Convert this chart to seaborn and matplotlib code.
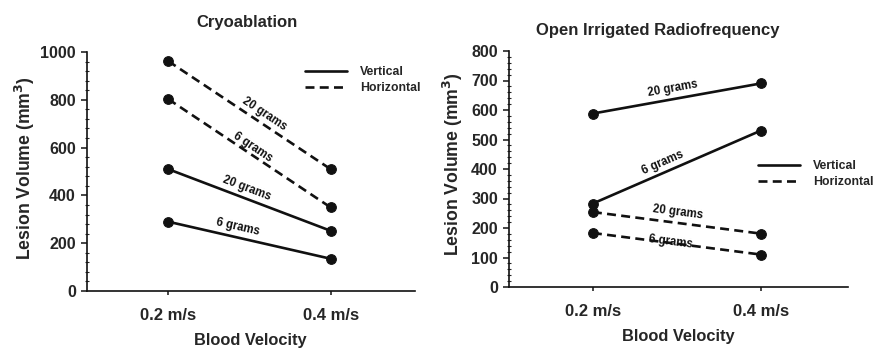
import matplotlib
matplotlib.use("Agg")
import matplotlib.pyplot as plt
import seaborn as sns
import pandas as pd
import numpy as np
from matplotlib.lines import Line2D
from matplotlib.ticker import MultipleLocator


# Data
velocities = ["0.2 m/s", "0.4 m/s"]

cryo_vert_6 = [290, 135]
cryo_vert_20 = [510, 252]
cryo_horiz_6 = [803, 350]
cryo_horiz_20 = [962, 510]

rf_vert_6 = [283, 530]
rf_vert_20 = [588, 690]
rf_horiz_6 = [183, 110]
rf_horiz_20 = [254, 181]


def make_frame(v6, v20, h6, h20):
    rows = []
    for name, orient, vals in [("6 grams", "Vertical", v6), ("20 grams", "Vertical", v20),
                               ("6 grams", "Horizontal", h6), ("20 grams", "Horizontal", h20)]:
        for vel, val in zip(velocities, vals):
            rows.append({"velocity": vel, "volume": val, "force": name,
                         "orientation": orient, "line": orient + " " + name})
    return pd.DataFrame(rows)


cryo = make_frame(cryo_vert_6, cryo_vert_20, cryo_horiz_6, cryo_horiz_20)
rf = make_frame(rf_vert_6, rf_vert_20, rf_horiz_6, rf_horiz_20)


# Style
sns.set_style("ticks")
plt.rcParams["font.family"] = ["Liberation Sans", "DejaVu Sans"]
plt.rcParams["font.weight"] = "bold"
ink = "#111111"
lw = 1.9
dash = (3.4, 2.0)

fig = plt.figure(figsize=(8.73, 3.48), dpi=100)
W, H = 873, 348


def px_axes(l, t, r, b):
    return fig.add_axes([l / W, 1 - b / H, (r - l) / W, (b - t) / H])


ax1 = px_axes(87, 52, 415, 291)
ax2 = px_axes(509, 51, 848, 287)


def draw(ax, df, ymax, major, minor):
    sns.lineplot(data=df, x="velocity", y="volume", units="line", estimator=None,
                 style="orientation", dashes={"Vertical": "", "Horizontal": dash},
                 color=ink, linewidth=lw, marker="o", markersize=7,
                 markeredgecolor=ink, legend=False, ax=ax, sort=False)
    ax.set_xlim(-0.5, 1.52)
    ax.set_ylim(0, ymax)
    ax.yaxis.set_major_locator(MultipleLocator(major))
    ax.yaxis.set_minor_locator(MultipleLocator(minor))
    ax.tick_params(axis="y", which="major", length=4, width=1.2, pad=4, labelsize=11.5)
    ax.tick_params(axis="y", which="minor", length=2.5, width=0.8, direction="inout")
    ax.tick_params(axis="x", length=3, width=1.2, pad=9, labelsize=12)
    for lab in ax.get_xticklabels() + ax.get_yticklabels():
        lab.set_fontweight("bold")
    for s in ["left", "bottom"]:
        ax.spines[s].set_linewidth(1.2)
        ax.spines[s].set_color(ink)
    sns.despine(ax=ax)
    ax.set_xlabel("Blood Velocity", fontsize=11.8, fontweight="bold")
    ax.set_ylabel("Lesion Volume (mm$^\\mathbf{3}$)", fontsize=12.7, fontweight="bold")


draw(ax1, cryo, 1000, 200, 40)
draw(ax2, rf, 800, 100, 20)


# Line labels along the segments
def line_label(ax, vals, text, t, off=3):
    y = vals[0] + (vals[1] - vals[0]) * t
    p0 = ax.transData.transform((0, vals[0]))
    p1 = ax.transData.transform((1, vals[1]))
    ang = np.degrees(np.arctan2(p1[1] - p0[1], p1[0] - p0[0]))
    ax.annotate(text, xy=(t, y), xytext=(0, off), textcoords="offset points",
                ha="center", va="bottom", rotation=ang, rotation_mode="anchor",
                fontsize=8.3, fontweight="bold", color=ink)


line_label(ax1, cryo_horiz_20, "20 grams", 0.57)
line_label(ax1, cryo_horiz_6, "6 grams", 0.5, off=1)
line_label(ax1, cryo_vert_20, "20 grams", 0.47)
line_label(ax1, cryo_vert_6, "6 grams", 0.42)

line_label(ax2, rf_vert_20, "20 grams", 0.48)
line_label(ax2, rf_vert_6, "6 grams", 0.43)
line_label(ax2, rf_horiz_20, "20 grams", 0.5)
line_label(ax2, rf_horiz_6, "6 grams", 0.46, off=-3.5)


# Titles
fig.text(247 / W, 1 - 22 / H, "Cryoablation", ha="center", va="center",
         fontsize=12, fontweight="bold")
fig.text(658 / W, 1 - 30 / H, "Open Irrigated Radiofrequency", ha="center", va="center",
         fontsize=12, fontweight="bold")

# Axis label positions
ax1.xaxis.set_label_coords((250 - 87) / 328, (291 - 340) / 239)
ax1.xaxis.label.set_va("center")
ax1.yaxis.set_label_coords((25 - 87) / 328, (291 - 168) / 239)
ax1.yaxis.label.set_va("center")
ax2.xaxis.set_label_coords((678 - 509) / 339, (287 - 337) / 236)
ax2.xaxis.label.set_va("center")
ax2.yaxis.set_label_coords((453 - 509) / 339, (287 - 164) / 236)
ax2.yaxis.label.set_va("center")


# Legends
handles = [Line2D([], [], color=ink, lw=lw, ls="-"),
           Line2D([], [], color=ink, lw=lw, ls=(0, dash))]
labels = ["Vertical", "Horizontal"]
for ax, (lx, ty) in [(ax1, (305, 66)), (ax2, (758, 160))]:
    ax.legend(handles, labels, loc="upper left", bbox_to_anchor=(lx / W, 1 - ty / H),
              bbox_transform=fig.transFigure, frameon=False, borderpad=0,
              borderaxespad=0, handlelength=3.4, handletextpad=1.1,
              labelspacing=0.35, prop={"size": 8.8, "weight": "bold"})

fig.savefig("out.png", dpi=100, facecolor="white")
